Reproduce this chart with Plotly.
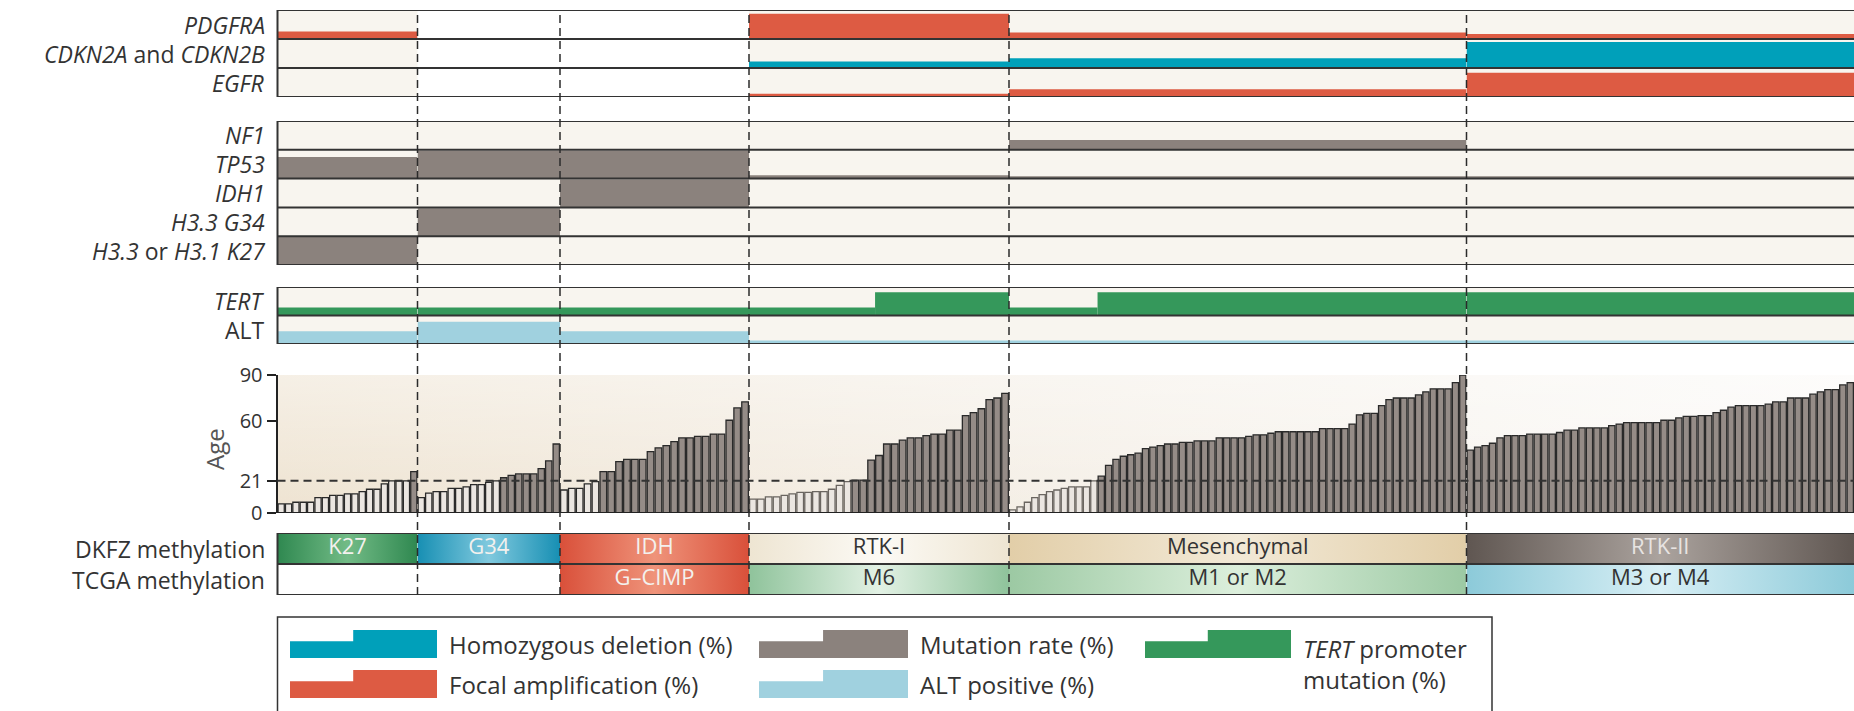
import base64
import plotly.graph_objects as go

W, H = 1854, 711
FONT = "Open Sans, Liberation Sans, Arial, sans-serif"
INK = "#333333"

# ---------------- data ----------------
groups = ["K27", "G34", "IDH", "RTK-I", "Mesenchymal", "RTK-II"]
tcga_labels = ["", "", "G–CIMP", "M6", "M1 or M2", "M3 or M4"]

age_K27 = [6, 6, 7, 7, 7, 10, 10, 11.5, 11.5, 12.5, 12.5, 14, 15.5, 15.5, 19, 21, 21, 21, 27]
age_G34 = [10, 13, 14, 14, 16, 16, 17, 18.5, 18.5, 20, 21, 23, 24.5, 25.5, 25.5, 25.5, 29, 34, 45]
age_IDH = [15, 16, 16, 19, 20.5, 27, 27, 33.5, 35, 35, 35, 40, 42.5, 44, 46.5, 49, 49, 50, 50,
           51.5, 51.5, 60.5, 68.5, 72.5]
age_RTK1 = [9, 9, 10.5, 10.5, 11.5, 12.5, 13.5, 13.5, 14, 14, 15.5, 18, 20.5, 21.5, 21.5, 34.5,
            37.5, 45, 45, 47.5, 49, 49, 50.5, 51.5, 51.5, 54, 54, 63.5, 65.5, 68, 74, 75, 78]
age_MES = [2, 4, 7, 10, 12, 14, 15, 16, 17, 17, 17,
           21, 24, 31, 35, 37, 38, 39, 42, 43, 44, 45, 45, 46, 46, 47, 47, 47, 49, 49, 49,
           49, 50, 51, 51, 52, 53, 53, 53, 53, 53, 53, 55, 55, 55, 55, 58, 64, 65, 65, 70,
           74, 75, 75, 75, 77, 79, 81, 81, 81, 85, 90]
age_RTK2 = [41, 43, 44, 45.5, 49, 50.5, 50.5, 50.5, 51.5, 51.5, 51.5, 51.5, 52.5, 54, 54,
            55.5, 55.5, 55.5, 55.5, 57, 58, 59, 59, 59, 59, 59, 60.5, 60.5, 62, 63, 63, 63.5,
            63.5, 65.5, 67, 69, 70, 70, 70, 70, 71, 72.5, 72.5, 75, 75, 75, 77.5, 79, 80.5,
            80.5, 83.5, 85]
ages = [age_K27, age_G34, age_IDH, age_RTK1, age_MES, age_RTK2]
counts = [len(a) for a in ages]

# alteration frequencies (%) per group
PDGFRA = [26, 0, 0, 87, 22, 17]
CDKN2 = [0, 0, 0, 22, 34, 90]
EGFR = [0, 0, 0, 11, 27, 84]
NF1 = [0, 0, 0, 0, 34, 0]
TP53 = [75, 97, 97, 12, 8, 8]
IDH1 = [0, 0, 97, 0, 0, 0]
H33_G34 = [0, 97, 0, 0, 0, 0]
H3_K27 = [97, 0, 0, 0, 0, 0]
ALT = [45, 78, 45, 12, 12, 12]
TERT_young = [28, 28, 28, 28, 28, 28]
TERT_adult = [28, 28, 28, 82, 82, 82]
TERT_young_n = [19, 19, 24, 16, 12, 0]

AGE_TICKS = [0, 21, 60, 90]
PEDIATRIC_CUTOFF = 21

# ---------------- styling / layout ----------------
RED, TEAL, GRAY, LBLUE, GREEN = "#dd5b43", "#00a0ba", "#8b827d", "#a0d1df", "#35985b"
ROW_BG = "#f8f5ef"
EDGE_PX = [277.5, 417.5, 560, 749, 1009, 1466.5, 1854]
X0 = EDGE_PX[0] / W
LABEL_SIZE = 23

def py(p):
    return 1 - p / H

PANELS = [("yaxis", "y", 10, 97, 3), ("yaxis2", "y2", 121, 265, 5), ("yaxis3", "y3", 287, 344, 2),
          ("yaxis4", "y4", 375, 513, 90), ("yaxis5", "y5", 533, 595, 2)]

XA = ["x"] + [f"x{i}" for i in range(2, 7)]

fig = go.Figure()
shapes, annotations = [], []

# ---- track rows ----
tracks = [
    ("y", 2, PDGFRA, RED, "<i>PDGFRA</i>"),
    ("y", 1, CDKN2, TEAL, "<i>CDKN2A</i> and <i>CDKN2B</i>"),
    ("y", 0, EGFR, RED, "<i>EGFR</i>"),
    ("y2", 4, NF1, GRAY, "<i>NF1</i>"),
    ("y2", 3, TP53, GRAY, "<i>TP53</i>"),
    ("y2", 2, IDH1, GRAY, "<i>IDH1</i>"),
    ("y2", 1, H33_G34, GRAY, "<i>H3.3 G34</i>"),
    ("y2", 0, H3_K27, GRAY, "<i>H3.3</i> or <i>H3.1 K27</i>"),
    ("y3", 0, ALT, LBLUE, "ALT"),
]
for ya, row, vals, col, label in tracks:
    for g, v in enumerate(vals):
        if v <= 0:
            continue
        c = counts[g]
        fig.add_trace(go.Bar(x=[c / 2], y=[v / 100], base=[row], width=[c],
                             xaxis=XA[g], yaxis=ya, marker=dict(color=col, line=dict(width=0)),
                             hoverinfo="skip", showlegend=False))
    annotations.append(dict(text=label, xref="paper", yref=ya, x=X0, y=row + 0.5, xshift=-11,
                            xanchor="right", yanchor="middle", showarrow=False,
                            font=dict(family=FONT, size=LABEL_SIZE, color=INK)))

# TERT row (young / adult split inside groups)
for g in range(6):
    c = counts[g]
    ny = TERT_young_n[g]
    xs, ws, ys = [], [], []
    if ny > 0:
        xs.append(ny / 2); ws.append(ny); ys.append(TERT_young[g] / 100)
    if c - ny > 0:
        xs.append(ny + (c - ny) / 2); ws.append(c - ny); ys.append(TERT_adult[g] / 100)
    fig.add_trace(go.Bar(x=xs, y=ys, base=[1] * len(xs), width=ws, xaxis=XA[g], yaxis="y3",
                         marker=dict(color=GREEN, line=dict(width=0)), hoverinfo="skip",
                         showlegend=False))
annotations.append(dict(text="<i>TERT</i>", xref="paper", yref="y3", x=X0, y=1.5, xshift=-11,
                        xanchor="right", yanchor="middle", showarrow=False,
                        font=dict(family=FONT, size=LABEL_SIZE, color=INK)))

# ---- age bars ----
for g in range(6):
    a = ages[g]
    cols = ["#ebe6e1" if v <= PEDIATRIC_CUTOFF else "#958c87" for v in a]
    lcols = ["#6a6560" if (v <= PEDIATRIC_CUTOFF and g >= 3) else "#2a2a2a" for v in a]
    fig.add_trace(go.Bar(x=[i + 0.5 for i in range(len(a))], y=a, width=0.84,
                         xaxis=XA[g], yaxis="y4",
                         marker=dict(color=cols, line=dict(color=lcols, width=1.3)),
                         hoverinfo="skip", showlegend=False))

# ---- methylation rows ----
DKFZ_COL = [("#2f8850", "#72bb86"), ("#178fb3", "#80c9de"), ("#d9503a", "#ef937a"),
            ("#eee5d2", "#fcfaf5"), ("#e2cea8", "#f2e9d7"), ("#5f5651", "#aba39e")]
DKFZ_TXT = ["#f3f1ee", "#f3f1ee", "#f3f1ee", INK, INK, "#e8e4e2"]
TCGA_COL = [None, None, ("#d9503a", "#ef937a"), ("#8fc39b", "#e2f1e4"), ("#9cc9a3", "#dcefdc"),
            ("#8ccad9", "#d8eff5")]
for g in range(6):
    c = counts[g]
    for row, colpair, txt, tcol in [(1, DKFZ_COL[g], groups[g], DKFZ_TXT[g]),
                                    (0, TCGA_COL[g], tcga_labels[g], "#f3f1ee" if g == 2 else INK)]:
        kw = dict(x=[0, c, c, 0, 0], y=[row, row, row + 1, row + 1, row], xaxis=XA[g], yaxis="y5",
                  mode="none", fill="toself", hoverinfo="skip", showlegend=False)
        if colpair is None:
            kw["fillcolor"] = "white"
        else:
            kw["fillcolor"] = colpair[0]
            kw["fillgradient"] = dict(type="horizontal",
                                      colorscale=[[0, colpair[0]], [0.5, colpair[1]], [1, colpair[0]]])
        fig.add_trace(go.Scatter(**kw))
        if txt:
            fig.add_trace(go.Scatter(x=[c / 2], y=[row + 0.5], xaxis=XA[g], yaxis="y5", mode="text",
                                     text=[txt], textposition="middle center",
                                     textfont=dict(family=FONT, size=22, color=tcol),
                                     hoverinfo="skip", showlegend=False))
for row, lab in [(1, "DKFZ methylation"), (0, "TCGA methylation")]:
    annotations.append(dict(text=lab, xref="paper", yref="y5", x=X0, y=row + 0.5, xshift=-11,
                            xanchor="right", yanchor="middle", showarrow=False,
                            font=dict(family=FONT, size=LABEL_SIZE, color=INK)))

# ---- panel borders ----
for key, ya, top, bot, n in PANELS:
    if ya == "y4":
        continue
    for k in range(n + 1):
        shapes.append(dict(type="line", xref="paper", yref=ya, x0=X0, x1=1, y0=k, y1=k,
                           line=dict(color=INK, width=2), layer="above"))
    shapes.append(dict(type="line", xref="paper", yref=ya, x0=X0, x1=X0, y0=0, y1=n,
                       line=dict(color=INK, width=2), layer="above"))
# age baseline + 21-year line
shapes.append(dict(type="line", xref="paper", yref="y4", x0=X0, x1=1, y0=0, y1=0,
                   line=dict(color="#222", width=2), layer="above"))
shapes.append(dict(type="line", xref="paper", yref="y4", x0=X0, x1=1, y0=PEDIATRIC_CUTOFF,
                   y1=PEDIATRIC_CUTOFF, line=dict(color="#333", width=2, dash="8px,5px"),
                   layer="above"))
# group dividers
for e in EDGE_PX[1:-1]:
    shapes.append(dict(type="line", xref="paper", yref="paper", x0=e / W, x1=e / W,
                       y0=py(595), y1=py(10), line=dict(color="#2b2b2b", width=1.5, dash="8px,5px"),
                       layer="above"))

# ---- age background gradient ----
svg = ('<svg xmlns="http://www.w3.org/2000/svg" width="400" height="100" viewBox="0 0 100 100" '
       'preserveAspectRatio="none"><defs>'
       '<linearGradient id="h" x1="0" y1="0" x2="1" y2="0">'
       '<stop offset="0" stop-color="#eee3d1"/><stop offset="0.45" stop-color="#f4eee5"/>'
       '<stop offset="1" stop-color="#fbfaf8"/></linearGradient>'
       '<linearGradient id="v" x1="0" y1="0" x2="0" y2="1">'
       '<stop offset="0" stop-color="#ffffff" stop-opacity="0.45"/>'
       '<stop offset="1" stop-color="#ffffff" stop-opacity="0"/></linearGradient></defs>'
       '<rect width="100" height="100" fill="url(#h)"/><rect width="100" height="100" fill="url(#v)"/>'
       '</svg>')
img_src = "data:image/svg+xml;base64," + base64.b64encode(svg.encode()).decode()
images = [dict(source=img_src, xref="paper", yref="paper", x=X0, y=py(375), sizex=1 - X0,
               sizey=(513 - 375) / H, xanchor="left", yanchor="top", sizing="stretch",
               layer="below")]

annotations.append(dict(text="Age", xref="paper", yref="paper", x=214 / W, y=py(449),
                        textangle=-90, showarrow=False, xanchor="center", yanchor="middle",
                        font=dict(family=FONT, size=24, color="#555")))

# ---- legend ----
shapes.append(dict(type="rect", xref="paper", yref="paper", x0=X0, x1=1492 / W, y0=-0.2,
                   y1=py(617), line=dict(color=INK, width=1.5), fillcolor="rgba(0,0,0,0)"))

def step_path(x0, x1, ytop, ybot, low=0.6, split=0.43):
    a, b = x0 / W, x1 / W
    s = (x0 + split * (x1 - x0)) / W
    yb, yt = py(ybot), py(ytop)
    yl = yb + low * (yt - yb)
    return f"M {a},{yb} L {a},{yl} L {s},{yl} L {s},{yt} L {b},{yt} L {b},{yb} Z"

legend_items = [
    (290, 437, 630, 658, TEAL, "Homozygous deletion (%)"),
    (290, 437, 670, 698, RED, "Focal amplification (%)"),
    (759, 908, 630, 658, GRAY, "Mutation rate (%)"),
    (759, 908, 670, 698, LBLUE, "ALT positive (%)"),
    (1145, 1291, 630, 658, GREEN, None),
]
for x0, x1, yt, yb, col, txt in legend_items:
    shapes.append(dict(type="path", xref="paper", yref="paper", path=step_path(x0, x1, yt, yb),
                       fillcolor=col, line=dict(width=0)))
    if txt:
        annotations.append(dict(text=txt, xref="paper", yref="paper", x=(x1 + 10) / W,
                                y=py((yt + yb) / 2), xanchor="left", yanchor="middle",
                                showarrow=False, font=dict(family=FONT, size=24, color=INK)))
annotations.append(dict(text="<i>TERT</i> promoter<br>mutation (%)", xref="paper", yref="paper",
                        x=1301 / W, y=py(630), xanchor="left", yanchor="top", align="left",
                        showarrow=False, font=dict(family=FONT, size=24, color=INK)))

# ---- axes ----
layout_axes = {}
for g in range(6):
    key = "xaxis" if g == 0 else f"xaxis{g + 1}"
    layout_axes[key] = dict(domain=[EDGE_PX[g] / W, EDGE_PX[g + 1] / W], range=[0, counts[g]],
                            visible=False, anchor="y4", fixedrange=True, automargin=False)
for key, ya, top, bot, n in PANELS:
    ax = dict(domain=[py(bot), py(top)], range=[0, n], anchor="x", fixedrange=True,
              automargin=False)
    if ya == "y4":
        ax.update(visible=True, showgrid=False, zeroline=False, showline=True, linecolor="#222",
                  linewidth=2, ticks="outside", ticklen=9, tickwidth=1.5, tickcolor="#222",
                  tickvals=AGE_TICKS, ticktext=[str(t) for t in AGE_TICKS],
                  tickfont=dict(family=FONT, size=20, color=INK))
    else:
        ax.update(visible=False)
    layout_axes[key] = ax

fig.update_layout(width=W, height=H,
                  margin=dict(l=0, r=0, t=0, b=0, pad=0, autoexpand=False),
                  paper_bgcolor="white", plot_bgcolor=ROW_BG, barmode="overlay",
                  showlegend=False, shapes=shapes, annotations=annotations, images=images,
                  font=dict(family=FONT, color=INK), **layout_axes)

fig.write_html("out.html", config={"displayModeBar": False},
               post_script="document.body.style.margin='0';")
